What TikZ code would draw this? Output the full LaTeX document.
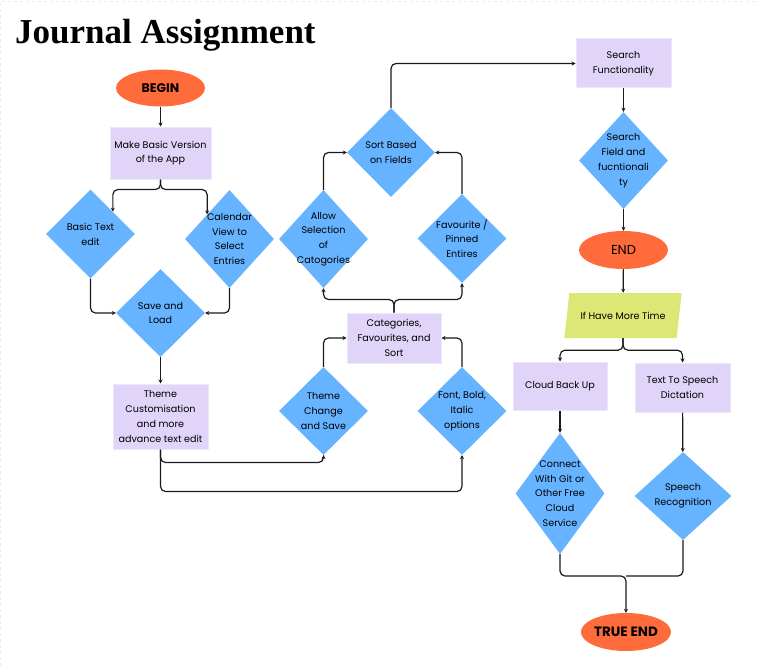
\documentclass[tikz,border=0pt]{standalone}
\usepackage{fontspec}
\setmainfont{Poppins}
\newfontfamily\titlefont{Liberation Serif}
\usetikzlibrary{shapes.geometric, arrows.meta}

\definecolor{termc}{HTML}{FF6B3B}
\definecolor{boxc}{HTML}{E0D4F8}
\definecolor{diac}{HTML}{66B3FF}
\definecolor{parac}{HTML}{DCE775}
\definecolor{linec}{HTML}{1A1A1A}

\tikzset{
  term/.style={ellipse, fill=termc, minimum width=89pt, minimum height=37pt, inner sep=0pt, font=\fontsize{12.5}{14}\selectfont\bfseries},
  box/.style={rectangle, fill=boxc, draw=boxc!55!white, line width=1pt, minimum width=95pt, minimum height=49pt, align=center, inner sep=1pt},
  dia/.style={diamond, fill=diac, minimum width=89pt, minimum height=88pt, inner sep=0pt},
  dtext/.style={align=center},
  link/.style={-{Stealth[length=4pt,width=4pt]}, rounded corners=5pt, line width=1.2pt, draw=linec},
  plain/.style={rounded corners=5pt, line width=1.2pt, draw=linec}
}

\begin{document}
\begin{tikzpicture}[x=1pt, y=-1pt, font=\fontsize{9.6}{14.8}\selectfont]
  \useasboundingbox (0,0) rectangle (759,666);
  \draw[dashed, gray!15] (0.5,666) -- (0.5,1.5) -- (759,1.5);

  \node[anchor=base west, inner sep=0pt, font=\titlefont\fontsize{35}{40}\selectfont\bfseries] (title) at (15,44) {Journal Assignment};

  % left column
  \node[term] (begin) at (160.5,88) {BEGIN};
  \node[box, minimum width=101pt, minimum height=52pt] (make) at (160.5,153) {Make Basic Version\\of the App};
  \node[dia, minimum height=89pt, label={[dtext]center:Basic Text\\edit}] (basic) at (90.5,234) {};
  \node[dia, minimum height=98pt, label={[dtext]center:Calendar\\View to\\Select\\Entries}] (cal) at (229.5,239) {};
  \node[dia, label={[dtext]center:Save and\\Load}] (save) at (160.5,313) {};
  \node[box, minimum height=65pt] (theme) at (160.5,416.5) {Theme\\Customisation\\and more\\advance text edit};

  % middle column
  \node[dia, label={[dtext]center:Theme\\Change\\and Save}] (tchange) at (323.5,411) {};
  \node[dia, label={[dtext]center:{Font, Bold,\\Italic\\options}}] (font) at (462,411) {};
  \node[box, minimum width=94pt, minimum height=50pt] (cat) at (394,338) {Categories,\\Favourites, and\\Sort};
  \node[dia, minimum height=98pt, label={[dtext]center:Allow\\Selection\\of\\Catogories}] (allow) at (323.5,239) {};
  \node[dia, minimum height=89pt, label={[dtext]center:Favourite /\\Pinned\\Entires}] (fav) at (462,238.5) {};
  \node[dia, minimum width=88pt, minimum height=89pt, label={[dtext]center:Sort Based\\on Fields}] (sort) at (391,152.5) {};

  % right column
  \node[box] (search) at (623.5,63.5) {Search\\Functionality};
  \node[dia, minimum height=97pt, label={[dtext]center:Search\\Field and\\fucntionali\\ty}] (sfield) at (623.5,160.5) {};
  \node[term, minimum height=38pt, font=\fontsize{13}{14}\selectfont] (end) at (623.5,250) {END};
  \node[trapezium, trapezium left angle=62, trapezium right angle=118, trapezium stretches=true, fill=parac, minimum width=118pt, minimum height=45pt, inner sep=0pt] (more) at (623,315.5) {If Have More Time};
  \node[box, minimum width=94pt, minimum height=48pt] (cloud) at (560,386) {Cloud Back Up};
  \node[box] (tts) at (682.5,387.5) {Text To Speech\\Dictation};
  \node[dia, minimum height=121pt, label={[dtext]center:Connect\\With Git or\\Other Free\\Cloud\\Service}] (connect) at (560,493.5) {};
  \node[dia, minimum width=97pt, label={[dtext]center:Speech\\Recognition}] (speech) at (683,496) {};
  \node[term, minimum width=90pt, minimum height=38pt, font=\fontsize{13.5}{15}\selectfont\bfseries] (trueend) at (626,632) {TRUE END};
  \coordinate (join) at (626,576);

  % connectors
  \draw[link] (begin) -- (make);
  \draw[link] (make.south) -- ++(0,10) -| (basic.north east);
  \draw[link] (make.south) -- ++(0,10) -| (cal.north west);
  \draw[link] (basic.south) |- (save.west);
  \draw[link] (cal.south) |- (save.east);
  \draw[link] (save) -- (theme);
  \draw[link] (theme.south) -- ++(0,13) -| (tchange.south);
  \draw[link] (theme.south) -- ++(0,42) -| (font.south);
  \draw[link] (tchange.north) |- (cat.west);
  \draw[link] (font.north) |- (cat.east);
  \draw[link] (cat.north) -- ++(0,-13) -| (allow.south);
  \draw[link] (cat.north) -- ++(0,-13) -| (fav.south);
  \draw[link] (allow.north) |- (sort.west);
  \draw[link] (fav.north) |- (sort.east);
  \draw[link] (sort.north) |- (search.west);
  \draw[link] (search) -- (sfield);
  \draw[link] (sfield) -- (end);
  \draw[link] (end) -- (more);
  \draw[link] (more.south) -- ++(0,12) -| (cloud.north);
  \draw[link] (more.south) -- ++(0,12) -| (tts.north);
  \draw[link] (cloud) -- (connect);
  \draw[link] (tts) -- (speech);
  \draw[plain] (speech.south) |- (join);
  \draw[link] (connect.south) |- (join) -- (trueend);
\end{tikzpicture}
\end{document}
